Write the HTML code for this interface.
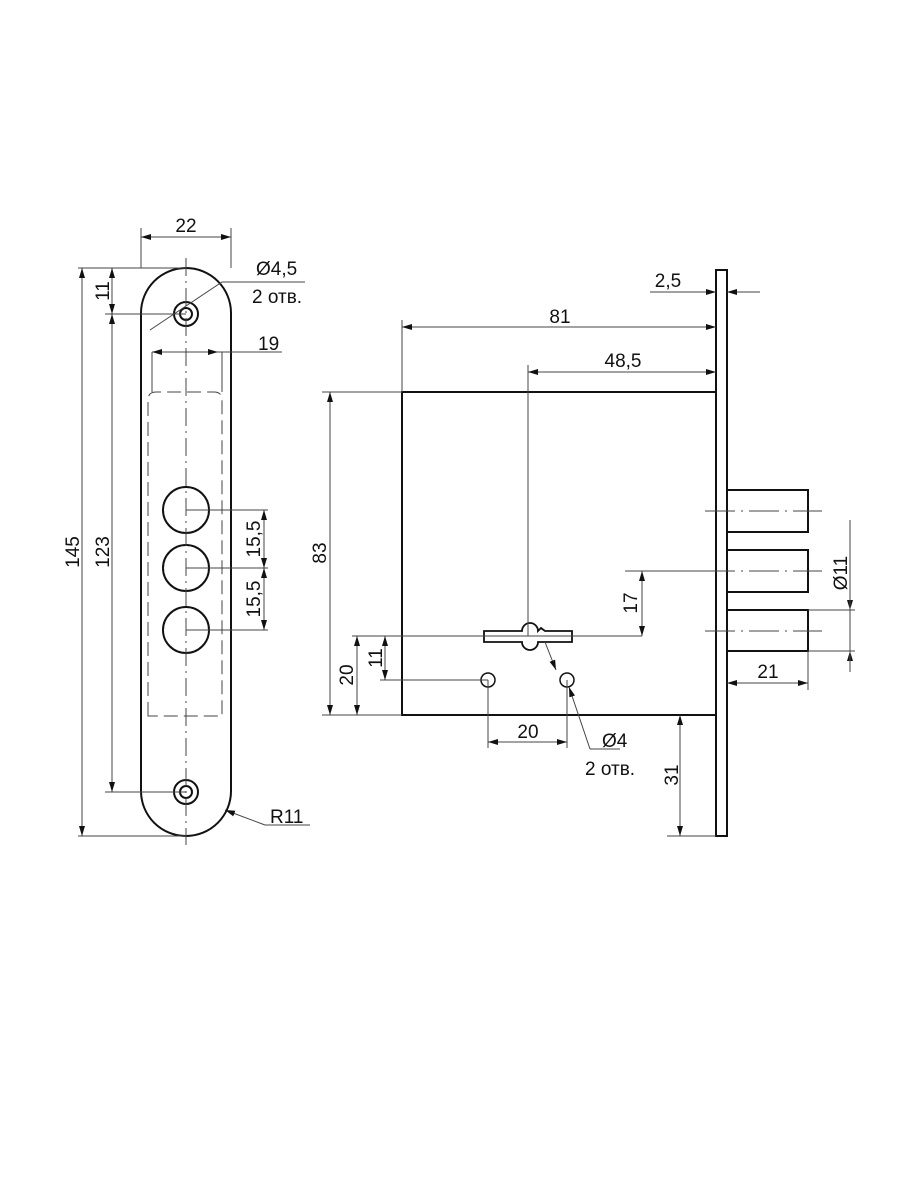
<!DOCTYPE html>
<html><head><meta charset="utf-8"><style>body{margin:0;background:#fff}svg{display:block}text{font-family:"Liberation Sans",sans-serif;font-size:19px;fill:#111}</style></head><body>
<svg width="900" height="1200" viewBox="0 0 900 1200" xmlns="http://www.w3.org/2000/svg">
<defs><marker id="a" viewBox="0 0 10 6" refX="10" refY="3" markerWidth="10" markerHeight="6" orient="auto-start-reverse" markerUnits="userSpaceOnUse"><path d="M0,0L10,3L0,6z" fill="#111"/></marker></defs>
<g fill="none" stroke="#111" stroke-width="2">
<path d="M141,313 A45,45 0 0 1 231,313 L231,791 A45,45 0 0 1 141,791 Z"/>
<circle cx="186" cy="314" r="12"/><circle cx="186" cy="314" r="6"/>
<circle cx="186" cy="792" r="12"/><circle cx="186" cy="792" r="6"/>
<circle cx="186" cy="510" r="23"/><circle cx="186" cy="568" r="23"/><circle cx="186" cy="630" r="23"/>
<rect x="402" y="392" width="314" height="323"/>
<rect x="716" y="270" width="11" height="566"/>
<rect x="727" y="490" width="81" height="42"/><rect x="727" y="550" width="81" height="42"/><rect x="727" y="610" width="81" height="41"/>
<path d="M484,631 H522 A8,8 0 0 1 538,631 L541,628 L545,631 H572 V642 H538 A8,8 0 0 1 522,642 H484 Z" stroke-width="1.8"/>
<circle cx="488" cy="680" r="7" stroke-width="1.5"/><circle cx="567" cy="680" r="7" stroke-width="1.5"/>
</g>
<g fill="none" stroke="#444" stroke-width="1">
<path d="M148,716 V400 Q148,392 156,392 H214 Q222,392 222,400 V716 Z" stroke-dasharray="14,6"/>
<path d="M186,258 V845" stroke-dasharray="18,5,2,5"/>
<path d="M705,511H822M705,571H822M705,631H822" stroke-dasharray="30,6,2,6"/>
<path d="M141,228V268M231,228V268M78,268H186M78,836H186M105,314H186M105,792H186"/>
<path d="M141,237H231" marker-start="url(#a)" marker-end="url(#a)"/>
<path d="M82,268V836" marker-start="url(#a)" marker-end="url(#a)"/>
<path d="M112,314V792" marker-start="url(#a)" marker-end="url(#a)"/>
<path d="M112,268V314" marker-start="url(#a)" marker-end="url(#a)"/>
<path d="M152,352H218" marker-start="url(#a)" marker-end="url(#a)"/><path d="M218,352H282M152,352V392M222,352V392"/>
<path d="M150,330L222,282H305"/>
<path d="M186,510H268M186,568H268M186,630H268"/>
<path d="M264,510V568" marker-start="url(#a)" marker-end="url(#a)"/>
<path d="M264,568V630" marker-start="url(#a)" marker-end="url(#a)"/>
<path d="M265,825H310"/><path d="M265,825L225,810" marker-end="url(#a)"/>
<path d="M402,320V392M528,365V636"/>
<path d="M402,327H716" marker-start="url(#a)" marker-end="url(#a)"/>
<path d="M528,372H716" marker-start="url(#a)" marker-end="url(#a)"/>
<path d="M650,292H716" marker-end="url(#a)"/><path d="M760,292H727" marker-end="url(#a)"/>
<path d="M322,392H402M322,715H402M352,636H642M380,680H488M488,680V748M567,680V748"/>
<path d="M330,392V715" marker-start="url(#a)" marker-end="url(#a)"/>
<path d="M357,636V715" marker-start="url(#a)" marker-end="url(#a)"/>
<path d="M385,636V680" marker-start="url(#a)" marker-end="url(#a)"/>
<path d="M488,742H567" marker-start="url(#a)" marker-end="url(#a)"/>
<path d="M545,642L556,670" marker-end="url(#a)"/>
<path d="M590,749H620"/><path d="M590,749L569,687" marker-end="url(#a)"/>
<path d="M625,571H705"/>
<path d="M642,571V636" marker-start="url(#a)" marker-end="url(#a)"/>
<path d="M808,610H855M808,651H855M808,651V690"/>
<path d="M850,590V610" marker-end="url(#a)"/><path d="M850,672V651" marker-end="url(#a)"/><path d="M850,520V672"/>
<path d="M727,683H808" marker-start="url(#a)" marker-end="url(#a)"/>
<path d="M667,836H716"/>
<path d="M680,715V836" marker-start="url(#a)" marker-end="url(#a)"/>
</g>
<text x="186" y="232" text-anchor="middle">22</text>
<text x="256" y="275">Ø4,5</text><text x="252" y="303">2 отв.</text>
<text x="258" y="350">19</text>
<text transform="translate(79,552) rotate(-90)" text-anchor="middle">145</text>
<text transform="translate(109,552) rotate(-90)" text-anchor="middle">123</text>
<text transform="translate(109,291) rotate(-90)" text-anchor="middle">11</text>
<text transform="translate(260,539) rotate(-90)" text-anchor="middle">15,5</text>
<text transform="translate(260,599) rotate(-90)" text-anchor="middle">15,5</text>
<text x="270" y="823">R11</text>
<text x="560" y="323" text-anchor="middle">81</text>
<text x="623" y="367" text-anchor="middle">48,5</text>
<text x="668" y="287" text-anchor="middle">2,5</text>
<text transform="translate(326,553) rotate(-90)" text-anchor="middle">83</text>
<text transform="translate(353,675) rotate(-90)" text-anchor="middle">20</text>
<text transform="translate(382,658) rotate(-90)" text-anchor="middle">11</text>
<text x="528" y="738" text-anchor="middle">20</text>
<text x="602" y="747">Ø4</text><text x="585" y="775">2 отв.</text>
<text transform="translate(637,603) rotate(-90)" text-anchor="middle">17</text>
<text transform="translate(847,573) rotate(-90)" text-anchor="middle">Ø11</text>
<text x="768" y="678" text-anchor="middle">21</text>
<text transform="translate(678,775) rotate(-90)" text-anchor="middle">31</text>
</svg>
</body></html>
